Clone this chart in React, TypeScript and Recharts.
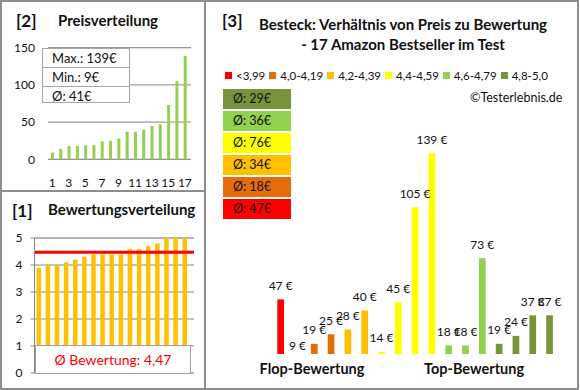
import React from 'react';
import { BarChart, Bar, XAxis, YAxis, CartesianGrid, ReferenceLine, LabelList, Cell } from 'recharts';

// [2] Preisverteilung – prices sorted ascending
const rankLabels = ['1', '2', '3', '4', '5', '6', '7', '8', '9', '10', '11', '12', '13', '14', '15', '16', '17'];
const sortedPrices = [9, 14, 18, 18, 19, 19, 24, 25, 28, 37, 37, 40, 45, 47, 73, 105, 139];
const priceTicks = [0, 50, 100, 150];
const priceMinorTicks = [10, 20, 30, 40, 60, 70, 80, 90, 110, 120, 130, 140];
const priceStats = ['Max.: 139€', 'Min.: 9€', 'Ø: 41€'];

// [1] Bewertungsverteilung – ratings sorted ascending
const sortedRatings = [3.9, 4.0, 4.0, 4.1, 4.2, 4.3, 4.4, 4.4, 4.4, 4.4, 4.6, 4.6, 4.7, 4.8, 5.0, 5.0, 5.0];
const ratingTicks = [0, 1, 2, 3, 4, 5];
const ratingMinorTicks = [0.2, 0.4, 0.6, 0.8, 1.2, 1.4, 1.6, 1.8, 2.2, 2.4, 2.6, 2.8, 3.2, 3.4, 3.6, 3.8, 4.2, 4.4, 4.6, 4.8];
const avgRating = 4.47;
const avgRatingText = 'Ø Bewertung: 4,47';

// [3] Preis zu Bewertung
const productPrices = [47, 9, 19, 25, 28, 40, 14, 45, 105, 139, 18, 18, 73, 19, 24, 37, 37];
const productGroups = [0, 1, 1, 1, 2, 2, 3, 3, 3, 3, 4, 4, 4, 5, 5, 5, 5];
const groupLabels = ['<3,99', '4,0-4,19', '4,2-4,39', '4,4-4,59', '4,6-4,79', '4,8-5,0'];
const groupColors = ['#FF0000', '#E46C0A', '#FFC000', '#FFFF00', '#92D050', '#77933C'];
const groupAverages = ['Ø: 47€', 'Ø: 18€', 'Ø: 34€', 'Ø: 76€', 'Ø: 36€', 'Ø: 29€'];

const priceData = rankLabels.map((r, i) => ({ rank: r, price: sortedPrices[i] }));
const ratingData = rankLabels.map((r, i) => ({ rank: r, rating: sortedRatings[i] }));
const productData = rankLabels.map((r, i) => ({ id: r, price: productPrices[i], group: productGroups[i] }));

const FONT = 'Lato, "Noto Sans", sans-serif';
const BORDER = '#8e8e8e';
const MAJOR = '#868686';
const MINOR = '#c4c4c4';

const abs = (left: number, top: number, extra: React.CSSProperties = {}): React.CSSProperties => ({
  position: 'absolute', left, top, ...extra,
});

const PriceBar = (props: any) => {
  const { x, y, width, height, fill } = props;
  if (!(height > 0)) return <g />;
  return <rect x={x} y={y} width={width} height={height} fill={fill} />;
};

const renderPriceLabel = (props: any) => {
  const { x, y, width, value } = props;
  return (
    <text x={x + width / 2} y={y - 14} textAnchor="middle" dominantBaseline="central"
      fontSize={12} fontFamily={FONT} fill="#111">
      {value} €
    </text>
  );
};

const tickStyle = { fontSize: 12, fill: '#111', fontFamily: FONT };

export default function App() {
  return (
    <div style={{ position: 'absolute', left: 0, top: 0, width: 580, height: 390, background: '#fff', fontFamily: FONT, color: '#111' }}>
      {/* frame */}
      <div style={abs(0, 0, { width: 579, height: 390, border: `2px solid ${BORDER}`, boxSizing: 'border-box' })} />
      <div style={abs(204, 0, { width: 2, height: 390, background: BORDER })} />
      <div style={abs(0, 190, { width: 205, height: 2, background: BORDER })} />

      {/* [2] Preisverteilung */}
      <div style={abs(16, 10, { fontSize: 17, fontWeight: 700 })}>[2]</div>
      <div style={abs(58, 11, { fontSize: 15, fontWeight: 700 })}>Preisverteilung</div>
      <div style={abs(0, 0)}>
        <BarChart width={205} height={191} data={priceData} margin={{ top: 47.7, right: 14, bottom: 6.7, left: 0 }} barSize={3}>
          <YAxis yAxisId="minor" hide domain={[0, 150]} ticks={priceMinorTicks} />
          <CartesianGrid yAxisId="minor" vertical={false} stroke={MINOR} />
          <CartesianGrid vertical={false} stroke={MAJOR} />
          <XAxis dataKey="rank" interval={1} tickSize={0} tickMargin={19} axisLine={false} height={25}
            tick={tickStyle} padding={{ left: 0, right: 2 }} />
          <YAxis domain={[0, 150]} ticks={priceTicks} width={48} tickSize={0} tickMargin={13} axisLine={false} tick={tickStyle} />
          <Bar dataKey="price" fill="#92D050" isAnimationActive={false} />
        </BarChart>
      </div>
      <div style={abs(42, 48, { width: 88, height: 55, border: '1px solid #a6a6a6', background: '#fff', boxSizing: 'border-box' })}>
        {priceStats.map((s, i) => (
          <div key={s} style={{ height: i < 2 ? 18 : 17, lineHeight: '18px', paddingLeft: 9, fontSize: 13,
            borderBottom: i < 2 ? '1px solid #a6a6a6' : 'none' }}>{s}</div>
        ))}
      </div>

      {/* [1] Bewertungsverteilung */}
      <div style={abs(12, 200, { fontSize: 17, fontWeight: 700 })}>[1]</div>
      <div style={abs(48, 200, { fontSize: 15, fontWeight: 700, whiteSpace: 'nowrap' })}>Bewertungsverteilung</div>
      <div style={abs(0, 191)}>
        <BarChart width={205} height={198} data={ratingData} margin={{ top: 47, right: 11, bottom: 16, left: 0 }} barSize={4.5}>
          <YAxis yAxisId="minor" hide domain={[0, 5]} ticks={ratingMinorTicks} />
          <CartesianGrid yAxisId="minor" vertical={false} stroke={MINOR} />
          <CartesianGrid vertical={false} stroke={MAJOR} />
          <XAxis dataKey="rank" hide padding={{ left: 0, right: 4.4 }} />
          <YAxis domain={[0, 5]} ticks={ratingTicks} width={34.5} tickSize={4} tickMargin={8} stroke={MAJOR}
            tickLine={{ stroke: MAJOR }} tick={tickStyle} />
          <Bar dataKey="rating" fill="#FFC000" isAnimationActive={false} />
          <ReferenceLine y={avgRating} stroke="#FF0000" strokeWidth={3} />
        </BarChart>
      </div>
      <div style={abs(35, 345, { width: 156, height: 29, border: '1px solid #a0a0a0', background: '#fff', boxSizing: 'border-box',
        display: 'flex', alignItems: 'center', justifyContent: 'center', color: '#FF0000', fontSize: 14 })}>
        {avgRatingText}
      </div>

      {/* [3] Preis zu Bewertung */}
      <div style={abs(222, 10, { fontSize: 17, fontWeight: 700 })}>[3]</div>
      <div style={abs(203, 14, { width: 400, textAlign: 'center', fontSize: 15, fontWeight: 700, lineHeight: '20px', whiteSpace: 'nowrap' })}>
        Besteck: Verhältnis von Preis zu Bewertung<br />- 17 Amazon Bestseller im Test
      </div>
      <div style={abs(225, 69, { display: 'flex', alignItems: 'center', fontSize: 11.5, whiteSpace: 'nowrap' })}>
        {groupLabels.map((g, i) => (
          <div key={g} style={{ display: 'flex', alignItems: 'center', marginRight: 4 }}>
            <span style={{ display: 'inline-block', width: 7, height: 7, background: groupColors[i], marginRight: 4 }} />
            {g}
          </div>
        ))}
      </div>
      <div style={abs(470, 90, { fontSize: 12.5 })}>©Testerlebnis.de</div>
      {groupAverages.slice().reverse().map((a, i) => (
        <div key={a} style={abs(223, 89 + 22 * i, { width: 68, height: 20, background: groupColors[5 - i],
          fontSize: 12.5, lineHeight: '20px', paddingLeft: 10, boxSizing: 'border-box' })}>{a}</div>
      ))}
      <div style={abs(206, 0)}>
        <BarChart width={372} height={388} data={productData} margin={{ top: 120, right: 20, bottom: 34, left: 66.3 }} barSize={6.7}>
          <XAxis dataKey="id" hide />
          <YAxis hide domain={[12.6, 160]} allowDataOverflow />
          <Bar dataKey="price" isAnimationActive={false} shape={PriceBar}>
            {productData.map((d) => (
              <Cell key={d.id} fill={groupColors[d.group]} />
            ))}
            <LabelList dataKey="price" content={renderPriceLabel} />
          </Bar>
        </BarChart>
      </div>
      <div style={abs(242, 360, { width: 140, textAlign: 'center', fontSize: 14.5, fontWeight: 700, whiteSpace: 'nowrap' })}>Flop-Bewertung</div>
      <div style={abs(404, 360, { width: 140, textAlign: 'center', fontSize: 14.5, fontWeight: 700, whiteSpace: 'nowrap' })}>Top-Bewertung</div>
    </div>
  );
}
